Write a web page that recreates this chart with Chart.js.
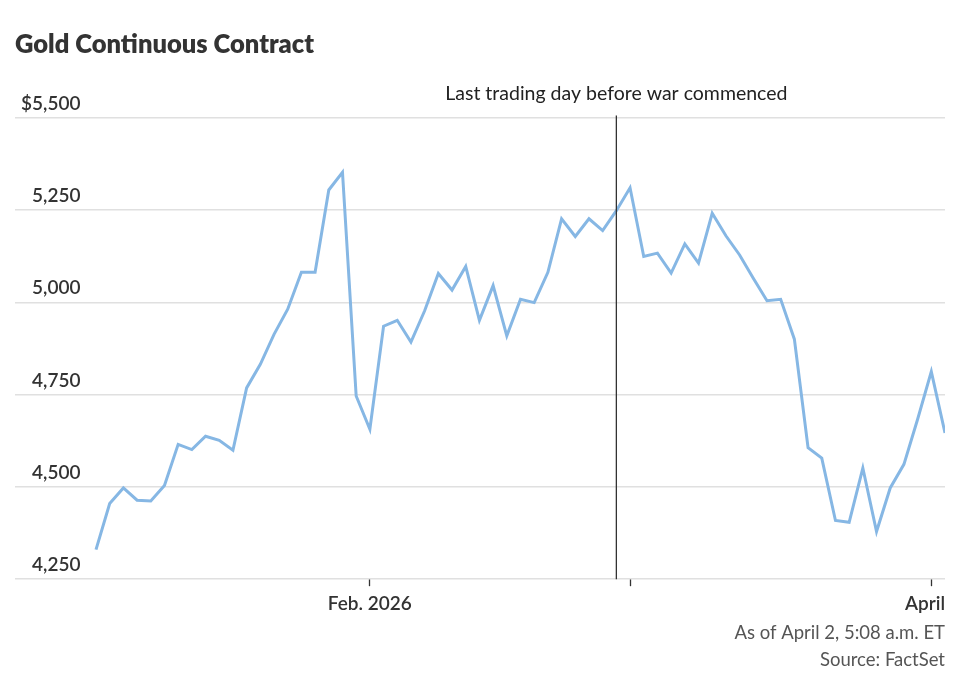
<!DOCTYPE html>
<html>
<head>
<meta charset="utf-8">
<script src="https://cdn.jsdelivr.net/npm/chart.js@4/dist/chart.umd.min.js"></script>
<style>
  html, body { margin: 0; padding: 0; background: #fff; }
  #wrap { width: 972px; height: 689px; position: relative; }
</style>
</head>
<body>
<div id="wrap"><canvas id="goldchart"></canvas></div>
<script>
// trading days, Jan 2 - Apr 2 2026
const dates = [
  'Jan 2','Jan 5','Jan 6','Jan 7','Jan 8','Jan 9','Jan 12','Jan 13','Jan 14','Jan 15','Jan 16',
  'Jan 20','Jan 21','Jan 22','Jan 23','Jan 26','Jan 27','Jan 28','Jan 29','Jan 30',
  'Feb 2','Feb 3','Feb 4','Feb 5','Feb 6','Feb 9','Feb 10','Feb 11','Feb 12','Feb 13',
  'Feb 17','Feb 18','Feb 19','Feb 20','Feb 23','Feb 24','Feb 25','Feb 26','Feb 27',
  'Mar 2','Mar 3','Mar 4','Mar 5','Mar 6','Mar 9','Mar 10','Mar 11','Mar 12','Mar 13',
  'Mar 16','Mar 17','Mar 18','Mar 19','Mar 20','Mar 23','Mar 24','Mar 25','Mar 26','Mar 27',
  'Mar 30','Mar 31','Apr 1','Apr 2'
];
const prices = [
  4330,4455,4497,4464,4462,4504,4615,4601,4637,4626,4599,
  4768,4832,4913,4981,5081,5081,5304,5352,4746,
  4656,4935,4951,4892,4977,5078,5033,5097,4951,5045,
  4909,5008,4999,5081,5226,5178,5226,5194,5248,
  5310,5124,5133,5079,5158,5106,5241,5180,5128,5065,
  5004,5008,4900,4606,4578,4409,4404,4551,4379,4497,
  4561,4683,4812,4646
];
const tickDates = ['Feb 2','Mar 2','Apr 1'];
const tickLabels = ['Feb. 2026','','April'];
const yTicks = [4250,4500,4750,5000,5250,5500];
const eventDate = 'Feb 27';
const eventNote = 'Last trading day before war commenced';
const titleText = 'Gold Continuous Contract';
const footNotes = ['As of April 2, 5:08 a.m. ET','Source: FactSet'];

const tickIdx = tickDates.map(d => dates.indexOf(d));

// vertical marker + its note, and the x labels (last one kept inside the plot)
const markers = {
  id: 'markers',
  afterDatasetsDraw(chart) {
    const {ctx, chartArea, scales: {x}} = chart;
    const px = x.getPixelForValue(dates.indexOf(eventDate));
    ctx.save();
    ctx.strokeStyle = '#333';
    ctx.lineWidth = 1.3;
    ctx.beginPath();
    ctx.moveTo(px, chartArea.top - 2);
    ctx.lineTo(px, chartArea.bottom);
    ctx.stroke();
    ctx.font = '19.5px Lato';
    ctx.fillStyle = '#222';
    ctx.textAlign = 'center';
    ctx.textBaseline = 'middle';
    ctx.fillText(eventNote, px, chartArea.top - 24);

    ctx.font = '600 19px Lato';
    ctx.fillStyle = '#333';
    tickIdx.forEach((v, i) => {
      const lab = tickLabels[i];
      if (!lab) return;
      let cx = x.getPixelForValue(v);
      const w = ctx.measureText(lab).width;
      if (cx + w / 2 > chartArea.right) cx = chartArea.right - w / 2;
      ctx.fillText(lab, cx, chartArea.bottom + 25);
    });
    ctx.restore();
  }
};

new Chart(document.getElementById('goldchart'), {
  type: 'line',
  data: {
    datasets: [{
      data: prices.map((p, i) => ({x: i, y: p})),
      borderColor: '#86b7e4',
      borderWidth: 3,
      pointRadius: 0,
      tension: 0
    }]
  },
  options: {
    responsive: true,
    maintainAspectRatio: false,
    animation: false,
    layout: { padding: { left: 15, right: 27, top: 0, bottom: 15 } },
    plugins: {
      legend: { display: false },
      tooltip: { enabled: false },
      title: {
        display: true,
        text: titleText,
        align: 'start',
        color: '#333',
        font: { family: 'Lato', size: 25.5, weight: '800' },
        padding: { top: 29, bottom: 58 }
      },
      subtitle: {
        display: true,
        position: 'bottom',
        align: 'end',
        text: footNotes,
        color: '#555',
        font: { family: 'Lato', size: 18.5, lineHeight: 1.46 },
        padding: { top: 0, bottom: 0 }
      }
    },
    scales: {
      x: {
        type: 'linear',
        min: -5.915,
        max: dates.length - 1,
        border: { display: false },
        grid: { drawOnChartArea: false, drawTicks: true, tickLength: 7, tickColor: '#333', tickWidth: 1.3 },
        afterBuildTicks: s => { s.ticks = tickIdx.map(v => ({value: v})); },
        afterFit: s => { s.height += 5; },
        ticks: {
          color: 'rgba(0,0,0,0)',
          font: { family: 'Lato', size: 19, weight: '600' },
          padding: 3,
          maxRotation: 0,
          callback: (v) => tickLabels[tickIdx.indexOf(v)] || ''
        }
      },
      y: {
        min: yTicks[0],
        max: yTicks[yTicks.length - 1],
        border: { display: false },
        grid: { color: '#e0e0e0', lineWidth: 1.4, drawTicks: false },
        afterBuildTicks: s => { s.ticks = yTicks.map(v => ({value: v})); },
        afterFit: s => { s.width = 0; },
        ticks: {
          mirror: true,
          crossAlign: 'far',
          padding: 6,
          labelOffset: -14,
          color: '#333',
          font: { family: 'Lato', size: 19, weight: '600' },
          callback: v => (v === 5500 ? '$' : '') + v.toLocaleString('en-US')
        }
      }
    }
  },
  plugins: [markers]
});
</script>
</body>
</html>
